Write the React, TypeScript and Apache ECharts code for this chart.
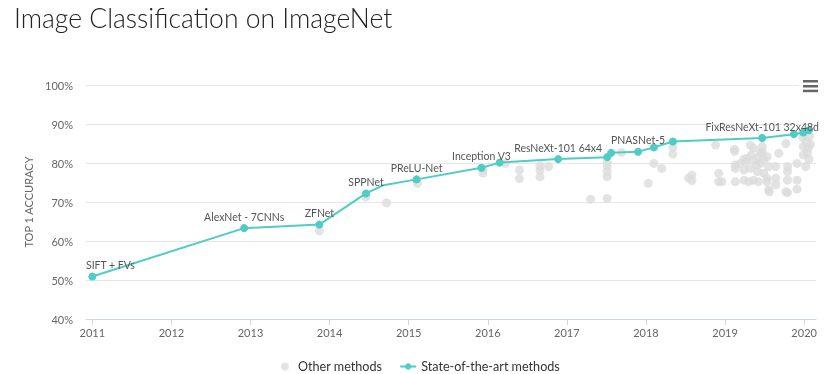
import React, { useEffect, useRef } from "react";
import * as echarts from "echarts";

const TITLE = "Image Classification on ImageNet";
const Y_NAME = "TOP 1 ACCURACY";
const YEAR_TICKS = [2011, 2012, 2013, 2014, 2015, 2016, 2017, 2018, 2019, 2020];

// State-of-the-art methods: [year, accuracy, label]
const SOTA_YEARS = [2011.0, 2012.92, 2013.87, 2014.46, 2014.68, 2015.1, 2015.92, 2016.15, 2016.89, 2017.51, 2017.56, 2017.9, 2018.1, 2018.34, 2019.47, 2019.87, 2019.99, 2020.06];
const SOTA_ACC = [50.9, 63.3, 64.2, 72.2, 74.3, 75.8, 78.8, 80.1, 81.0, 81.5, 82.6, 82.9, 84.0, 85.5, 86.4, 87.4, 87.8, 88.4];
const SOTA_LABELS = ["SIFT + FVs", "AlexNet - 7CNNs", "ZFNet", "SPPNet", "", "PReLU-Net", "Inception V3", "", "ResNeXt-101 64x4", "", "", "PNASNet-5", "", "", "FixResNeXt-101 32x48d", "", "", ""];
const HIDDEN_MARKERS = [4];

// Other methods: [year, accuracy]
const OTHER_POINTS: [number, number][] = [
  [2013.87, 62.6], [2014.46, 71.3], [2014.72, 69.8], [2015.11, 74.8], [2015.94, 77.4], [2015.94, 78.4],
  [2016.22, 79.9], [2016.4, 78.2], [2016.4, 76.0], [2016.66, 79.3], [2016.66, 78.2], [2016.66, 76.5],
  [2016.77, 79.1], [2017.3, 70.7], [2017.51, 70.9], [2017.51, 80.3], [2017.51, 79.1], [2017.51, 77.8],
  [2017.51, 76.5], [2017.69, 82.7], [2018.03, 74.8], [2018.1, 79.9], [2018.2, 78.6], [2018.34, 84.0],
  [2018.34, 82.3], [2018.54, 76.1], [2018.58, 76.9], [2018.58, 75.5], [2018.88, 84.6], [2018.92, 77.4],
  [2018.92, 75.2], [2018.96, 75.2], [2019.12, 83.5], [2019.12, 83.0], [2019.13, 79.5], [2019.13, 78.6],
  [2019.13, 75.2], [2019.19, 79.9], [2019.24, 78.2], [2019.24, 75.6], [2019.24, 81.0], [2019.28, 81.2],
  [2019.26, 80.3], [2019.3, 75.2], [2019.32, 84.6], [2019.32, 78.6], [2019.33, 82.0], [2019.36, 83.8],
  [2019.36, 80.8], [2019.36, 75.6], [2019.4, 79.5], [2019.41, 77.8], [2019.42, 75.2], [2019.42, 81.5],
  [2019.45, 82.5], [2019.45, 79.9], [2019.47, 84.2], [2019.47, 82.9], [2019.49, 80.8], [2019.49, 77.4],
  [2019.53, 81.6], [2019.53, 76.1], [2019.53, 75.2], [2019.55, 79.1], [2019.55, 73.1], [2019.56, 72.6],
  [2019.64, 79.1], [2019.64, 76.1], [2019.64, 74.4], [2019.68, 82.5], [2019.77, 85.0], [2019.77, 72.6],
  [2019.79, 79.1], [2019.79, 77.8], [2019.79, 75.6], [2019.79, 72.4], [2019.91, 79.9], [2019.91, 75.6],
  [2019.91, 73.3], [2019.98, 86.6], [2019.99, 84.2], [2019.99, 82.1], [2020.02, 79.1], [2020.03, 85.5],
  [2020.05, 83.8], [2020.04, 82.5], [2020.06, 81.0], [2020.08, 84.8], [2020.07, 86.9],
];

const TEAL = "#4fcdc4";
const GRAY = "#dcdcdc";
const FONT = "Lato, 'Noto Sans', sans-serif";

export default function App() {
  const ref = useRef<HTMLDivElement>(null);
  useEffect(() => {
    if (!ref.current) return;
    const chart = echarts.init(ref.current, undefined, { renderer: "svg" });
    const sotaData = SOTA_YEARS.map((y, i) => {
      const item: any = { value: [y, SOTA_ACC[i]], name: SOTA_LABELS[i] };
      if (i === 0) item.label = { offset: [18, 0] };
      if (HIDDEN_MARKERS.includes(i)) item.symbol = "none";
      return item;
    });
    chart.setOption({
      animation: false,
      textStyle: { fontFamily: FONT },
      title: {
        text: TITLE,
        left: 14,
        top: 4,
        padding: 0,
        textStyle: { fontFamily: FONT, fontSize: 26.5, fontWeight: 300, color: "#222" },
      },
      legend: {
        left: 276,
        top: 355,
        itemWidth: 16,
        itemHeight: 8,
        itemGap: 17,
        textStyle: { fontFamily: FONT, fontSize: 12.6, color: "#333" },
        data: [
          { name: "Other methods", icon: "circle" },
          { name: "State-of-the-art methods" },
        ],
      },
      grid: { left: 86, right: 18, top: 85, bottom: 55 },
      xAxis: {
        type: "value",
        min: 2010.92,
        max: 2020.15,
        splitLine: { show: false },
        axisLine: { show: true, lineStyle: { color: "#ccd6eb" } },
        axisTick: { show: true, length: 6, lineStyle: { color: "#ccd6eb" }, customValues: YEAR_TICKS },
        axisLabel: { color: "#666", fontSize: 11, fontFamily: FONT, margin: 8, customValues: YEAR_TICKS, formatter: (v: number) => String(Math.round(v)) },
      },
      yAxis: {
        type: "value",
        min: 40,
        max: 100,
        interval: 10,
        name: Y_NAME,
        nameLocation: "middle",
        nameGap: 45,
        nameTextStyle: { color: "#666", fontSize: 11, fontFamily: FONT },
        axisLine: { show: false },
        axisTick: { show: false },
        splitLine: { lineStyle: { color: "#e6e6e6" } },
        axisLabel: { color: "#666", fontSize: 11, fontFamily: FONT, margin: 13, formatter: "{value}%" },
      },
      series: [
        {
          name: "Other methods",
          type: "scatter",
          symbolSize: 9,
          itemStyle: { color: GRAY },
          data: OTHER_POINTS,
          z: 1,
        },
        {
          name: "State-of-the-art methods",
          type: "line",
          symbol: "circle",
          symbolSize: 8,
          showAllSymbol: true,
          lineStyle: { color: TEAL, width: 2 },
          itemStyle: { color: TEAL },
          label: {
            show: true,
            position: "top",
            distance: 2,
            color: "#555",
            fontSize: 10.5,
            fontFamily: FONT,
            formatter: (p: any) => p.name || "",
          },
          data: sotaData,
          z: 3,
        },
      ],
      graphic: [
        { type: "rect", left: 799, top: 74, shape: { width: 30, height: 24 }, style: { fill: "#fff" }, z: 10 },
        { type: "rect", left: 803, top: 80, shape: { width: 15, height: 2.5 }, style: { fill: "#666" }, z: 11 },
        { type: "rect", left: 803, top: 85, shape: { width: 15, height: 2.5 }, style: { fill: "#666" }, z: 11 },
        { type: "rect", left: 803, top: 89.7, shape: { width: 15, height: 2.5 }, style: { fill: "#666" }, z: 11 },
      ],
    });
    return () => chart.dispose();
  }, []);
  return <div ref={ref} style={{ position: "fixed", left: 0, top: 0, width: 834, height: 374 }} />;
}
